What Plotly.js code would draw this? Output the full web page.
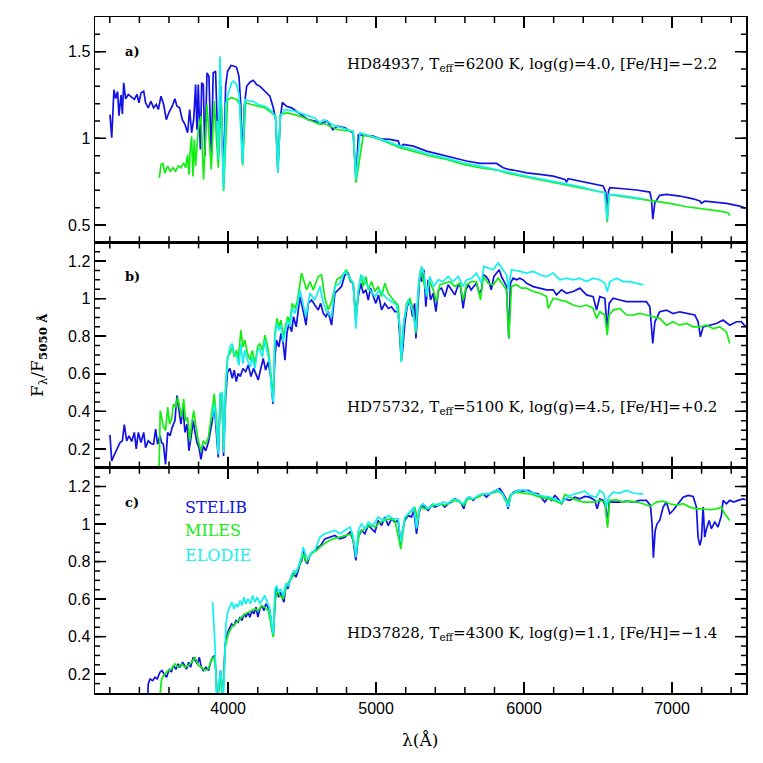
<!DOCTYPE html>
<html>
<head>
<meta charset="utf-8">
<script src="https://cdn.plot.ly/plotly-3.0.1.min.js"></script>
<style>
  html, body { margin: 0; padding: 0; background: #fff; }
  #graph { width: 763px; height: 763px; }
</style>
</head>
<body>
<div id="graph"></div>
<script>
// spectra, normalised at 5050 A

// panel a) HD84937
var aStelibWave = [3201,3213,3228,3240,3253,3262,3276,3285,3294,3307,3325,3348,3366,3384,3397,3411,3429,3442,3460,3478,3496,3514,3528,3546,3564,3582,3600,3622,3640,3654,3672,3690,3708,3726,3740,3753,3767,3780,3789,3798,3812,3821,3832,3843,3857,3870,3886,3899,3915,3933,3950,3969,3983,3996,4019,4041,4057,4073,4086,4098,4109,4125,4147,4170,4192,4215,4237,4260,4282,4305,4321,4336,4352,4366,4395,4429,4462,4496,4541,4586,4631,4669,4708,4737,4790,4845,4864,4880,4981,5026,5093,5150,5165,5183,5251,5341,5431,5521,5611,5701,5814,5859,5893,5927,6017,6107,6197,6276,6287,6298,6377,6467,6535,6553,6562,6571,6580,6670,6760,6850,6861,6870,6884,6917,6962,7052,7143,7188,7199,7221,7278,7368,7458,7498];
var aStelibFlux = [1.137,1.003,1.28,1.23,1.27,1.13,1.25,1.14,1.32,1.228,1.253,1.234,1.224,1.253,1.205,1.262,1.272,1.205,1.176,1.214,1.176,1.195,1.166,1.243,1.195,1.108,1.15,1.185,1.228,1.185,1.176,1.108,1.08,1.032,1.166,1.032,1.108,1.31,1.05,1.31,0.935,1.32,1.31,0.897,1.378,1.358,0.887,1.378,1.387,0.887,1.30,0.78,1.30,1.387,1.42,1.416,1.41,1.358,1.185,0.858,1.185,1.30,1.324,1.335,1.31,1.30,1.28,1.262,1.243,1.176,1.108,0.82,1.108,1.208,1.185,1.176,1.157,1.137,1.108,1.099,1.085,1.10,1.05,1.07,1.06,1.03,0.763,1.02,1.013,0.997,0.994,0.984,0.946,0.965,0.955,0.926,0.907,0.888,0.869,0.855,0.855,0.83,0.821,0.817,0.801,0.792,0.782,0.763,0.748,0.767,0.753,0.74,0.725,0.686,0.552,0.696,0.715,0.709,0.702,0.69,0.648,0.533,0.628,0.671,0.677,0.667,0.651,0.638,0.625,0.638,0.632,0.625,0.609,0.596];
var aMilesWave = [3535,3546,3559,3573,3591,3609,3627,3645,3663,3681,3699,3713,3726,3735,3744,3753,3762,3771,3780,3798,3816,3834,3857,3886,3906,3933,3951,3969,3996,4023,4057,4080,4098,4118,4158,4203,4249,4294,4321,4336,4352,4395,4451,4496,4541,4586,4620,4649,4737,4845,4864,4914,5026,5161,5251,5364,5476,5589,5701,5814,5893,5927,6039,6152,6264,6377,6490,6546,6562,6575,6647,6760,6872,6985,7098,7210,7323,7379,7390];
var aMilesFlux = [0.772,0.849,0.855,0.80,0.84,0.81,0.83,0.81,0.84,0.83,0.858,0.83,0.906,0.79,0.935,1.012,0.78,0.993,0.84,1.05,1.128,0.762,1.195,0.82,1.214,0.83,1.22,0.695,1.224,1.234,1.224,1.195,0.843,1.205,1.195,1.185,1.176,1.147,1.128,0.805,1.137,1.147,1.137,1.124,1.108,1.093,1.08,1.085,1.051,1.04,0.744,1.022,0.994,0.946,0.926,0.898,0.878,0.85,0.83,0.817,0.798,0.792,0.773,0.753,0.734,0.715,0.696,0.686,0.517,0.676,0.667,0.653,0.638,0.625,0.605,0.594,0.58,0.571,0.552];
var aElodieWave = [3925,3933,3945,3969,3985,4001,4023,4037,4057,4073,4098,4113,4147,4170,4203,4249,4294,4321,4336,4352,4384,4451,4519,4586,4620,4649,4715,4845,4864,4891,5026,5161,5251,5364,5476,5589,5701,5814,5927,6039,6152,6264,6377,6490,6546,6562,6575,6647,6760,6805];
var aElodieFlux = [1.10,0.88,1.474,0.705,1.20,1.262,1.32,1.33,1.31,1.253,0.85,1.224,1.214,1.214,1.195,1.185,1.157,1.118,0.80,1.128,1.166,1.157,1.137,1.118,1.089,1.108,1.075,1.04,0.763,1.032,0.997,0.955,0.936,0.907,0.884,0.859,0.84,0.821,0.798,0.778,0.759,0.74,0.721,0.696,0.686,0.532,0.676,0.671,0.657,0.651];

// panel b) HD75732
var bStelibWave = [3201,3213,3224,3240,3253,3269,3285,3298,3314,3330,3348,3366,3379,3393,3411,3429,3442,3460,3478,3496,3510,3523,3539,3550,3562,3577,3591,3607,3622,3640,3654,3668,3681,3695,3708,3722,3735,3749,3764,3776,3789,3803,3816,3832,3848,3866,3879,3893,3906,3922,3933,3947,3960,3969,3983,3996,4012,4028,4041,4055,4068,4082,4100,4118,4136,4154,4172,4190,4203,4221,4237,4253,4271,4289,4303,4316,4327,4343,4357,4372,4384,4397,4411,4429,4442,4460,4474,4485,4508,4526,4541,4564,4586,4609,4625,4643,4661,4676,4699,4721,4744,4766,4789,4812,4827,4845,4863,4879,4897,4913,4931,4947,4962,4980,4998,5016,5037,5059,5082,5104,5127,5149,5161,5170,5179,5194,5210,5228,5246,5260,5269,5282,5296,5309,5323,5336,5352,5368,5386,5404,5422,5442,5465,5487,5510,5532,5555,5570,5588,5606,5624,5642,5660,5678,5697,5712,5724,5742,5760,5778,5796,5814,5832,5847,5863,5881,5890,5897,5908,5926,5949,5971,5994,6017,6062,6107,6152,6197,6219,6253,6287,6332,6377,6422,6467,6490,6512,6546,6562,6575,6602,6647,6692,6737,6782,6827,6850,6861,6870,6884,6917,6962,7007,7052,7098,7154,7176,7192,7210,7255,7300,7345,7390,7435,7469,7498];
var bStelibFlux = [0.275,0.136,0.157,0.181,0.207,0.234,0.243,0.329,0.243,0.27,0.24,0.288,0.2,0.288,0.234,0.288,0.207,0.243,0.229,0.225,0.306,0.225,0.27,0.234,0.225,0.118,0.288,0.27,0.315,0.35,0.484,0.404,0.332,0.422,0.288,0.332,0.19,0.261,0.35,0.288,0.234,0.207,0.145,0.216,0.19,0.234,0.297,0.35,0.44,0.297,0.154,0.493,0.475,0.163,0.475,0.61,0.628,0.576,0.619,0.559,0.602,0.585,0.628,0.611,0.646,0.585,0.629,0.594,0.567,0.628,0.682,0.62,0.664,0.576,0.44,0.69,0.779,0.743,0.815,0.761,0.672,0.815,0.868,0.824,0.904,0.85,0.931,1.011,0.931,0.859,0.975,0.993,0.966,0.94,0.975,0.922,0.904,0.931,0.859,1.029,1.047,1.065,1.127,1.136,1.091,1.082,0.886,1.011,1.082,1.029,1.047,0.993,1.056,1.02,0.975,1.02,0.94,0.975,0.948,0.957,0.931,0.931,0.797,0.672,0.725,0.868,0.957,0.993,0.904,0.975,0.788,0.993,1.136,1.091,1.154,0.957,1.1,0.993,1.029,0.931,1.047,1.056,1.011,1.074,1.047,1.02,1.074,1.065,0.948,1.047,1.074,1.047,1.065,1.082,1.029,1.047,1.127,1.118,1.1,1.047,1.118,1.136,1.154,1.118,1.091,1.065,0.904,0.788,1.082,1.109,1.1,1.109,1.1,1.082,1.064,1.056,1.047,1.047,1.02,1.047,1.029,1.038,1.056,1.02,1.011,0.939,1.011,1.002,0.832,0.975,1.002,0.993,0.984,0.984,0.984,0.984,0.957,0.868,0.761,0.877,0.93,0.939,0.921,0.93,0.921,0.913,0.877,0.797,0.85,0.859,0.868,0.886,0.859,0.877,0.877,0.85];
var bMilesWave = [3532,3541,3550,3564,3577,3591,3604,3618,3631,3645,3659,3672,3686,3699,3713,3726,3740,3753,3767,3780,3798,3816,3832,3848,3866,3879,3893,3906,3920,3933,3947,3956,3969,3983,3996,4012,4028,4041,4057,4068,4086,4100,4113,4131,4149,4163,4181,4199,4212,4231,4249,4267,4280,4294,4305,4316,4330,4343,4357,4372,4388,4402,4417,4433,4451,4469,4496,4530,4553,4575,4609,4631,4654,4676,4699,4733,4766,4800,4823,4845,4863,4879,4897,4913,4931,4947,4969,4992,5014,5037,5059,5082,5116,5149,5161,5170,5183,5206,5228,5251,5269,5284,5300,5318,5341,5363,5386,5408,5431,5465,5498,5532,5566,5588,5611,5645,5678,5706,5724,5757,5791,5825,5859,5881,5897,5915,5949,5983,6017,6062,6107,6152,6163,6197,6242,6287,6332,6377,6422,6467,6490,6512,6546,6562,6575,6602,6647,6692,6737,6782,6827,6872,6917,6962,7007,7052,7098,7143,7188,7233,7278,7323,7368,7390];
var bMilesFlux = [0.05,0.404,0.368,0.315,0.297,0.422,0.332,0.359,0.44,0.422,0.475,0.422,0.368,0.466,0.35,0.368,0.243,0.332,0.404,0.332,0.243,0.19,0.243,0.225,0.261,0.332,0.404,0.493,0.368,0.19,0.475,0.502,0.19,0.547,0.69,0.707,0.743,0.69,0.725,0.672,0.832,0.743,0.779,0.707,0.672,0.725,0.654,0.743,0.761,0.725,0.806,0.743,0.672,0.547,0.466,0.815,0.895,0.85,0.886,0.797,0.85,0.904,0.877,0.975,0.948,0.993,1.136,1.047,1.091,1.047,1.118,1.127,1.002,0.94,0.984,1.1,1.118,1.154,1.1,1.082,0.895,1.029,1.127,1.065,1.118,1.047,1.091,1.038,1.065,1.011,1.082,1.029,0.993,0.966,0.832,0.663,0.85,0.975,1.002,0.939,0.815,1.029,1.154,1.1,1.029,1.091,1.047,0.984,1.074,1.082,1.091,1.065,1.082,0.993,1.074,1.091,1.091,0.993,1.118,1.082,1.074,1.109,1.074,1.047,0.788,1.065,1.074,1.056,1.056,1.038,1.029,1.011,0.948,1.002,0.993,0.984,0.966,0.957,0.966,0.948,0.895,0.93,0.913,0.806,0.913,0.939,0.948,0.913,0.913,0.921,0.913,0.904,0.895,0.859,0.877,0.859,0.868,0.85,0.85,0.859,0.841,0.85,0.823,0.761];
var bElodieWave = [3893,3906,3922,3933,3947,3960,3971,3983,3996,4012,4028,4041,4057,4073,4086,4100,4113,4131,4149,4163,4181,4199,4212,4231,4249,4267,4280,4294,4305,4316,4330,4343,4357,4372,4388,4402,4417,4433,4451,4469,4485,4508,4526,4553,4586,4620,4643,4665,4699,4721,4755,4789,4812,4845,4863,4879,4902,4931,4958,4992,5025,5059,5093,5138,5161,5170,5188,5217,5246,5269,5287,5307,5323,5341,5363,5390,5420,5453,5487,5521,5555,5588,5611,5645,5678,5712,5728,5757,5791,5825,5859,5882,5893,5915,5972,6017,6062,6107,6152,6197,6242,6287,6332,6377,6422,6467,6512,6546,6562,6580,6625,6670,6715,6760,6805];
var bElodieFlux = [0.368,0.44,0.315,0.172,0.493,0.502,0.181,0.511,0.672,0.743,0.761,0.707,0.698,0.645,0.761,0.654,0.725,0.672,0.636,0.69,0.627,0.725,0.734,0.69,0.779,0.716,0.654,0.511,0.448,0.797,0.868,0.832,0.859,0.77,0.832,0.886,0.85,0.948,0.922,0.966,1.047,0.975,0.904,1.029,0.993,1.065,0.975,0.931,0.904,1.065,1.082,1.145,1.127,1.082,0.84,1.047,1.127,1.082,1.047,1.011,1.047,1.011,0.993,0.966,0.85,0.663,0.886,0.993,0.939,0.832,1.082,1.172,1.136,1.011,1.118,1.065,1.1,1.091,1.118,1.091,1.118,1.065,1.1,1.109,1.136,1.082,1.172,1.163,1.154,1.19,1.154,1.127,1.05,1.154,1.145,1.136,1.145,1.127,1.118,1.136,1.1,1.109,1.1,1.109,1.091,1.109,1.1,1.082,1.038,1.091,1.109,1.091,1.091,1.082,1.073];

// panel c) HD37828
var cStelibWave = [3455,3460,3472,3490,3505,3521,3539,3553,3566,3584,3602,3616,3629,3647,3663,3674,3692,3706,3719,3733,3746,3764,3778,3791,3805,3818,3832,3850,3868,3881,3895,3908,3917,3926,3949,3962,3980,3994,4007,4023,4039,4053,4068,4080,4093,4107,4120,4134,4147,4161,4174,4188,4201,4215,4228,4242,4255,4269,4282,4294,4305,4316,4327,4341,4354,4368,4377,4390,4404,4417,4431,4444,4458,4471,4485,4498,4507,4521,4535,4553,4571,4589,4607,4625,4654,4688,4721,4755,4789,4823,4845,4863,4879,4901,4924,4947,4969,4992,5014,5037,5059,5082,5104,5127,5149,5165,5179,5194,5217,5239,5255,5273,5291,5307,5329,5352,5374,5397,5419,5442,5464,5487,5510,5532,5554,5577,5593,5611,5633,5656,5678,5701,5723,5746,5769,5791,5814,5836,5859,5877,5892,5908,5931,5960,5994,6027,6061,6095,6140,6163,6185,6208,6230,6253,6275,6309,6343,6377,6411,6444,6478,6494,6512,6534,6552,6564,6575,6602,6647,6692,6737,6782,6827,6854,6865,6874,6886,6899,6917,6940,6962,6985,7007,7041,7075,7109,7143,7165,7176,7188,7199,7210,7221,7233,7251,7266,7289,7311,7334,7345,7368,7390,7417,7446,7480,7498];
var cStelibFlux = [0.05,0.148,0.175,0.166,0.184,0.175,0.211,0.22,0.202,0.184,0.228,0.211,0.246,0.228,0.255,0.237,0.264,0.246,0.228,0.264,0.237,0.29,0.273,0.255,0.29,0.237,0.22,0.237,0.22,0.264,0.29,0.299,0.22,0.05,0.22,0.05,0.362,0.415,0.442,0.468,0.459,0.486,0.477,0.504,0.486,0.521,0.504,0.53,0.504,0.539,0.521,0.557,0.504,0.548,0.566,0.539,0.575,0.557,0.539,0.45,0.406,0.575,0.664,0.61,0.637,0.601,0.584,0.672,0.655,0.699,0.717,0.735,0.717,0.744,0.788,0.806,0.859,0.806,0.788,0.833,0.85,0.859,0.877,0.886,0.921,0.93,0.939,0.921,0.93,0.957,0.912,0.806,0.93,0.966,0.948,0.992,0.975,0.957,1.019,0.992,1.037,0.992,1.028,1.01,1.019,0.895,0.966,1.019,1.046,1.037,1.072,0.948,1.063,1.099,1.09,1.072,1.099,1.09,1.099,1.108,1.09,1.108,1.117,1.134,1.126,1.108,1.081,1.134,1.143,1.126,1.143,1.152,1.161,1.143,1.161,1.17,1.179,1.188,1.161,1.134,1.081,1.152,1.17,1.179,1.175,1.179,1.165,1.161,1.117,1.143,1.126,1.152,1.134,1.108,1.134,1.126,1.143,1.134,1.147,1.143,1.126,1.081,1.134,1.126,1.09,1.001,1.117,1.117,1.117,1.122,1.117,1.126,1.126,1.099,1.001,0.82,0.966,1.001,1.019,1.09,1.117,1.055,1.072,1.108,1.143,1.152,1.147,1.09,0.93,0.886,0.921,1.09,0.93,0.975,1.019,0.975,1.01,0.984,1.046,1.126,1.108,1.126,1.117,1.126,1.134,1.129];
var cMilesWave = [3535,3550,3573,3595,3618,3640,3663,3686,3708,3730,3753,3776,3798,3821,3843,3866,3888,3904,3917,3926,3949,3962,3980,4001,4023,4046,4068,4091,4113,4136,4158,4181,4203,4226,4248,4271,4289,4305,4318,4332,4350,4372,4395,4417,4440,4462,4485,4507,4530,4553,4575,4598,4620,4665,4710,4755,4800,4834,4863,4890,4924,4958,4992,5025,5059,5093,5127,5167,5194,5228,5262,5280,5296,5329,5363,5397,5431,5464,5498,5532,5566,5593,5622,5656,5690,5723,5757,5791,5825,5854,5872,5888,5908,5949,5994,6039,6107,6174,6253,6275,6332,6399,6478,6512,6546,6564,6579,6625,6669,6715,6760,6805,6850,6895,6940,6985,7030,7075,7120,7165,7210,7255,7300,7334,7356,7390];
var cMilesFlux = [0.05,0.175,0.202,0.22,0.228,0.255,0.237,0.255,0.237,0.246,0.264,0.29,0.246,0.237,0.22,0.228,0.281,0.29,0.22,0.05,0.202,0.05,0.344,0.415,0.45,0.468,0.486,0.504,0.521,0.53,0.539,0.548,0.539,0.566,0.557,0.539,0.468,0.397,0.593,0.646,0.619,0.601,0.672,0.699,0.726,0.744,0.788,0.841,0.797,0.833,0.85,0.859,0.877,0.904,0.921,0.93,0.939,0.948,0.85,0.957,0.975,0.992,0.984,1.01,1.019,1.028,1.019,0.868,1.028,1.063,1.09,1.019,1.09,1.081,1.09,1.099,1.108,1.099,1.117,1.126,1.117,1.099,1.134,1.134,1.143,1.158,1.161,1.165,1.175,1.158,1.126,1.117,1.152,1.17,1.165,1.161,1.143,1.134,1.108,1.158,1.134,1.117,1.117,1.126,1.117,0.98,1.126,1.129,1.117,1.122,1.117,1.108,1.094,1.117,1.122,1.108,1.099,1.108,1.09,1.081,1.081,1.076,1.081,1.09,1.055,1.019];
var cElodieWave = [3895,3911,3922,3949,3967,3985,3999,4012,4026,4039,4053,4066,4080,4093,4107,4120,4134,4152,4165,4181,4197,4215,4233,4248,4264,4278,4291,4305,4316,4327,4341,4354,4372,4390,4408,4426,4444,4462,4480,4498,4507,4525,4543,4564,4586,4620,4654,4688,4721,4755,4789,4823,4845,4863,4879,4901,4924,4947,4980,5014,5048,5082,5115,5149,5167,5194,5228,5255,5273,5296,5318,5352,5386,5419,5453,5487,5521,5554,5588,5622,5656,5690,5723,5757,5791,5825,5854,5877,5892,5915,5949,5994,6039,6107,6174,6253,6309,6377,6411,6444,6489,6512,6539,6557,6570,6602,6647,6692,6737,6782,6805];
var cElodieFlux = [0.584,0.362,0.05,0.22,0.05,0.468,0.539,0.557,0.584,0.548,0.575,0.557,0.593,0.566,0.61,0.575,0.601,0.575,0.619,0.584,0.61,0.575,0.601,0.619,0.584,0.557,0.486,0.415,0.646,0.672,0.637,0.655,0.619,0.681,0.672,0.726,0.752,0.744,0.788,0.833,0.877,0.833,0.815,0.85,0.859,0.93,0.948,0.957,0.966,0.948,0.966,0.984,0.939,0.824,0.966,1.001,0.975,1.01,0.992,1.037,1.019,1.046,1.028,1.028,0.903,1.037,1.063,1.09,0.975,1.09,1.108,1.081,1.108,1.099,1.117,1.108,1.134,1.126,1.108,1.143,1.134,1.152,1.161,1.158,1.17,1.183,1.161,1.126,1.09,1.158,1.175,1.183,1.17,1.152,1.143,1.117,1.152,1.17,1.175,1.152,1.143,1.179,1.161,1.09,1.143,1.17,1.165,1.179,1.165,1.161,1.161];

// tick marks
var xMajorTicks = [4000, 5000, 6000, 7000];
var aMajorTicks = [0.5, 1, 1.5];
var bcMajorTicks = [0.2, 0.4, 0.6, 0.8, 1, 1.2];

function steps(lo, hi, step){
  var out = [];
  var n = Math.round((hi - lo) / step);
  for(var i=0; i<=n; i++) out.push(Math.round((lo + i*step)*1000)/1000);
  return out;
}
var xMinorTicks = steps(3200, 7400, 200);
var aMinorTicks = steps(0.5, 1.6, 0.1);
var bcMinorTicks = steps(0.15, 1.25, 0.05);

var libNames = ['STELIB', 'MILES', 'ELODIE'];
var libColors = ['#1212e6', '#12ee12', '#14f0f0'];

var panels = [
  {xa: 'x', ya: 'y', waves: [aStelibWave, aMilesWave, aElodieWave], fluxes: [aStelibFlux, aMilesFlux, aElodieFlux], yMajor: aMajorTicks, yMinor: aMinorTicks},
  {xa: 'x2', ya: 'y2', waves: [bStelibWave, bMilesWave, bElodieWave], fluxes: [bStelibFlux, bMilesFlux, bElodieFlux], yMajor: bcMajorTicks, yMinor: bcMinorTicks},
  {xa: 'x3', ya: 'y3', waves: [cStelibWave, cMilesWave, cElodieWave], fluxes: [cStelibFlux, cMilesFlux, cElodieFlux], yMajor: bcMajorTicks, yMinor: bcMinorTicks}
];

var data = [];
panels.forEach(function(p){
  for(var i=0; i<3; i++){
    data.push({
      x: p.waves[i], y: p.fluxes[i],
      xaxis: p.xa, yaxis: p.ya,
      type: 'scatter', mode: 'lines',
      name: libNames[i],
      line: {color: libColors[i], width: 1.7},
      showlegend: false, hoverinfo: 'skip'
    });
  }
});

// inside tick marks on all four sides of each panel, placed through the axes
var shapes = [];
function tick(xref, yref, x0, x1, y0, y1){
  shapes.push({type: 'line', xref: xref, yref: yref, x0: x0, x1: x1, y0: y0, y1: y1,
    line: {color: '#000', width: 1.5}, layer: 'above'});
}
panels.forEach(function(p){
  var xd = p.xa + ' domain', yd = p.ya + ' domain';
  xMajorTicks.forEach(function(v){ tick(p.xa, yd, v, v, 0, 0.049); tick(p.xa, yd, v, v, 0.951, 1); });
  xMinorTicks.forEach(function(v){ tick(p.xa, yd, v, v, 0, 0.027); tick(p.xa, yd, v, v, 0.973, 1); });
  p.yMajor.forEach(function(v){ tick(xd, p.ya, 0, 0.017, v, v); tick(xd, p.ya, 0.983, 1, v, v); });
  p.yMinor.forEach(function(v){ tick(xd, p.ya, 0, 0.0078, v, v); tick(xd, p.ya, 0.9922, 1, v, v); });
});

var tickFont = {family: 'Liberation Sans, Arial, sans-serif', size: 16, color: '#000'};

function xAxis(anchor, labels){
  return {
    anchor: anchor, range: [3100, 7500],
    tickmode: 'array', tickvals: xMajorTicks,
    ticktext: xMajorTicks.map(function(v){ return labels ? String(v) : ''; }),
    ticks: 'inside', ticklen: 11, tickwidth: 1.5, tickcolor: '#000',
    mirror: 'ticks', showline: true, linecolor: '#000', linewidth: 1.5,
    showgrid: false, zeroline: false, tickfont: tickFont
  };
}
function yAxis(anchor, domain, range, major){
  return {
    anchor: anchor, domain: domain, range: range,
    tickmode: 'array', tickvals: major, ticktext: major.map(String),
    ticks: 'inside', ticklen: 11, tickwidth: 1.5, tickcolor: '#000',
    mirror: 'ticks', showline: true, linecolor: '#000', linewidth: 1.5,
    showgrid: false, zeroline: false, tickfont: tickFont
  };
}

// text positions in paper fractions of the plot area
var serif = 'DejaVu Serif, serif';
var starText = [
  'HD84937, T<sub>eff</sub>=6200 K, log(g)=4.0, [Fe/H]=\u22122.2',
  'HD75732, T<sub>eff</sub>=5100 K, log(g)=4.5, [Fe/H]=+0.2',
  'HD37828, T<sub>eff</sub>=4300 K, log(g)=1.1, [Fe/H]=\u22121.4'
];
var starY = [0.9297, 0.422, 0.088];
var panelTags = ['a)', 'b)', 'c)'];
var tagY = [0.949, 0.6156, 0.2823];

var annotations = [];
for(var k=0; k<3; k++){
  annotations.push({xref: 'paper', yref: 'paper', x: 0.043, y: tagY[k], xanchor: 'left', yanchor: 'middle',
    text: '<b>' + panelTags[k] + '</b>', showarrow: false, font: {family: serif, size: 13, color: '#000'}});
  annotations.push({xref: 'paper', yref: 'paper', x: 0.672, y: starY[k], xanchor: 'center', yanchor: 'middle',
    text: starText[k], showarrow: false, font: {family: serif, size: 15, color: '#000'}});
}
var legY = [0.275, 0.2407, 0.2037];
for(var j=0; j<3; j++){
  annotations.push({xref: 'paper', yref: 'paper', x: 0.135, y: legY[j], xanchor: 'left', yanchor: 'middle',
    text: libNames[j], showarrow: false, font: {family: serif, size: 16, color: libColors[j]}});
}
annotations.push({xref: 'paper', yref: 'paper', x: -0.0876, y: 0.5, xanchor: 'center', yanchor: 'middle',
  textangle: -90, text: 'F<sub>\u03bb</sub>/F<sub><b>5050 \u00c5</b></sub>', showarrow: false,
  font: {family: serif, size: 17, color: '#000'}});
annotations.push({xref: 'paper', yref: 'paper', x: 0.499, y: -0.07, xanchor: 'center', yanchor: 'middle',
  text: '\u03bb(\u00c5)', showarrow: false, font: {family: serif, size: 17, color: '#000'}});

var layout = {
  width: 763, height: 763,
  margin: {l: 95, r: 17, t: 17, b: 70},
  paper_bgcolor: '#fff', plot_bgcolor: '#fff',
  showlegend: false,
  xaxis: xAxis('y', false),
  xaxis2: xAxis('y2', false),
  xaxis3: xAxis('y3', true),
  yaxis: yAxis('x', [0.6667, 1], [0.4, 1.7], aMajorTicks),
  yaxis2: yAxis('x2', [0.3333, 0.6667], [0.1, 1.3], bcMajorTicks),
  yaxis3: yAxis('x3', [0, 0.3333], [0.1, 1.3], bcMajorTicks),
  shapes: shapes,
  annotations: annotations
};

Plotly.newPlot('graph', data, layout, {staticPlot: true});
</script>
</body>
</html>
